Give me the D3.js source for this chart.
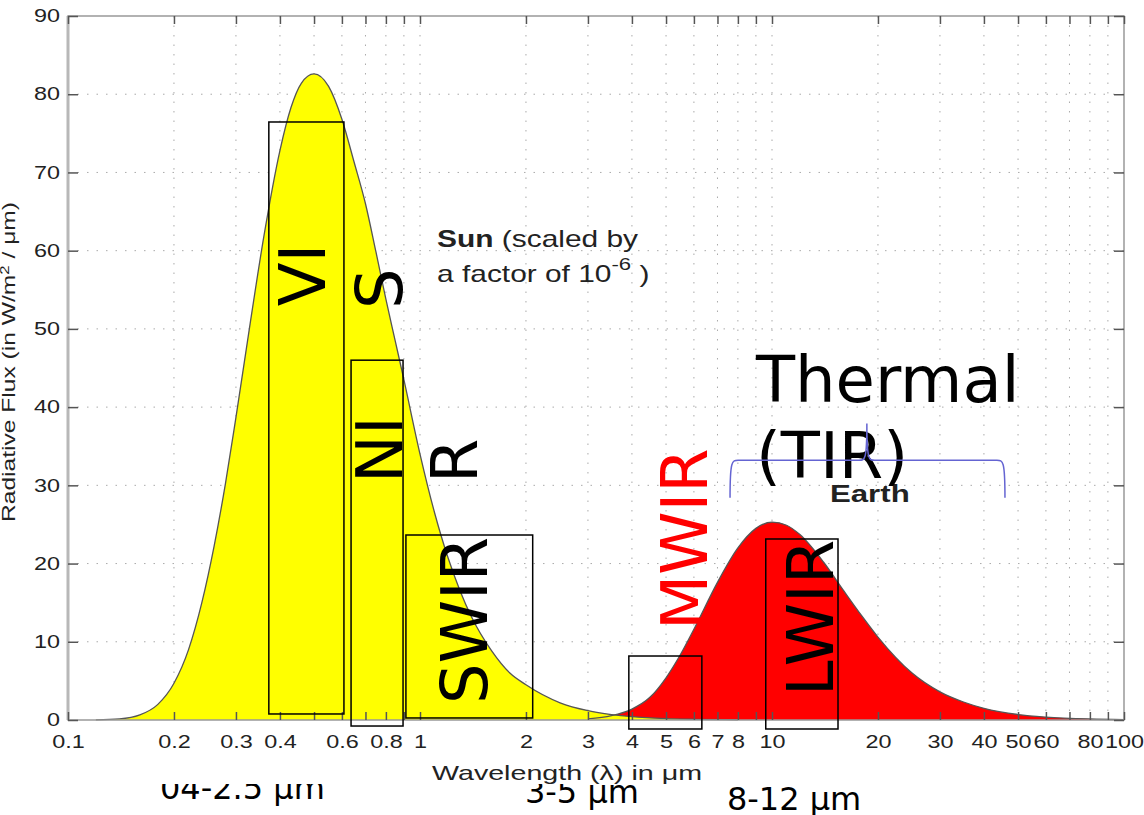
<!DOCTYPE html>
<html>
<head>
<meta charset="utf-8">
<script src="https://cdn.jsdelivr.net/npm/d3@7"></script>
<style>
  body { margin: 0; background: #fff; }
  svg { display: block; }
</style>
</head>
<body>
<div id="chart"></div>
<script>
// Sun curve (scaled by 1e-6)
const sunWl   = [0.12, 0.14, 0.16, 0.18, 0.20, 0.22, 0.24, 0.26, 0.28, 0.30, 0.33, 0.36, 0.40, 0.43, 0.46, 0.50, 0.55, 0.60, 0.65, 0.70, 0.75, 0.80, 0.85, 0.90, 1.0, 1.1, 1.2, 1.3, 1.4, 1.6, 1.8, 2.0, 2.5, 3.0, 3.5, 4.0, 5.0, 6.0, 8.0];
const sunFlux = [0.02, 0.14, 0.65, 2.0, 4.7, 9.0, 15.0, 22.2, 30.2, 38.7, 51.0, 61.8, 72.8, 78.3, 81.4, 82.6, 81.0, 76.8, 71.3, 66.0, 59.8, 53.8, 48.5, 43.5, 34.0, 26.5, 20.8, 16.5, 13.2, 8.8, 6.0, 4.5, 2.2, 1.2, 0.7, 0.42, 0.18, 0.09, 0.03];

// Earth curve
const earthWl   = [3.0, 3.5, 4.0, 4.5, 5.0, 5.5, 6.0, 7.0, 8.0, 9.0, 10, 11, 12, 14, 16, 18, 20, 25, 30, 35, 40, 50, 60, 80, 100];
const earthFlux = [0.15, 0.55, 1.4, 2.9, 5.4, 8.4, 11.6, 17.6, 22.0, 24.5, 25.3, 24.9, 23.7, 20.2, 16.5, 13.3, 10.6, 6.0, 3.6, 2.3, 1.5, 0.7, 0.37, 0.13, 0.06];

// axis ticks
const xTicks = [0.1, 0.2, 0.3, 0.4, 0.5, 0.6, 0.7, 0.8, 0.9, 1, 2, 3, 4, 5, 6, 7, 8, 9, 10, 20, 30, 40, 50, 60, 70, 80, 90, 100];
const xTickLabels = ["0.1", "0.2", "0.3", "0.4", "", "0.6", "", "0.8", "", "1", "2", "3", "4", "5", "6", "7", "8", "", "10", "20", "30", "40", "50", "60", "", "80", "", "100"];
const yTicks = [0, 10, 20, 30, 40, 50, 60, 70, 80, 90];

// band boxes (wavelength range, flux range)
const bandNames = ["VIS", "NIR", "SWIR", "MWIR", "LWIR"];
const bandWl0   = [0.372, 0.637, 0.912, 3.92, 9.6];
const bandWl1   = [0.608, 0.895, 2.09, 6.32, 15.4];
const bandLo    = [0.77, -0.77, 0.26, -1.15, -1.15];
const bandHi    = [76.45, 46.0, 23.65, 8.18, 23.14];

// rotated band labels
const labelText = ["VI", "S", "NI", "R", "SWIR", "MWIR", "LWIR"];
const labelWl   = [0.537, 0.889, 0.889, 1.452, 1.55, 6.54, 14.9];
const labelFlux = [52.9, 52.54, 30.3, 30.3, 2.05, 11.5, 3.07];
const labelColor = ["#000", "#000", "#000", "#000", "#000", "#ff0000", "#000"];

// range notes under the chart
const rangeText = ["04-2.5 \u03bcm", "3-5 \u03bcm", "8-12 \u03bcm"];
const rangeWl   = [0.1825, 1.987, 7.447];
const rangeFlux = [-10.1, -10.6, -11.5];

const width = 1144;
const height = 815;
const stretch = 1.3;

const x = d3.scaleLog().domain([0.1, 100]).range([68, 1124]);
const y = d3.scaleLinear().domain([0, 90]).range([720, 16]);

const svg = d3.select("#chart").append("svg")
  .attr("width", width)
  .attr("height", height);

// notes below, partly hidden by the chart's white background
svg.append("g")
  .selectAll("text")
  .data(rangeText)
  .join("text")
  .attr("x", (d, i) => x(rangeWl[i]))
  .attr("y", (d, i) => y(rangeFlux[i]))
  .attr("font-family", "DejaVu Sans")
  .attr("font-size", 32)
  .attr("fill", "#000")
  .text(d => d);

svg.append("rect")
  .attr("width", width)
  .attr("height", 784)
  .attr("fill", "#fff");

// grid
const grid = svg.append("g")
  .attr("stroke", "#aaa")
  .attr("stroke-width", 1)
  .attr("stroke-dasharray", "1.5,8");
grid.selectAll(".vg")
  .data(xTicks.slice(1, -1))
  .join("line")
  .attr("x1", d => x(d)).attr("x2", d => x(d))
  .attr("y1", y(90)).attr("y2", y(0));
grid.selectAll(".hg")
  .data(yTicks.slice(1, -1))
  .join("line")
  .attr("x1", x(0.1)).attr("x2", x(100))
  .attr("y1", d => y(d)).attr("y2", d => y(d));

const sun = sunWl.map((w, i) => ({ w, f: sunFlux[i] }));
const earth = earthWl.map((w, i) => ({ w, f: earthFlux[i] }));

const area = d3.area()
  .x(d => x(d.w))
  .y0(y(0))
  .y1(d => y(d.f))
  .curve(d3.curveMonotoneX);
const line = d3.line()
  .x(d => x(d.w))
  .y(d => y(d.f))
  .curve(d3.curveMonotoneX);

svg.append("path").datum(earth).attr("d", area).attr("fill", "#ff0000");
svg.append("path").datum(sun).attr("d", area).attr("fill", "#ffff00");
svg.append("path").datum(earth).attr("d", line).attr("fill", "none").attr("stroke", "#555").attr("stroke-width", 1.3);
svg.append("path").datum(sun).attr("d", line).attr("fill", "none").attr("stroke", "#555").attr("stroke-width", 1.3);

// frame
svg.append("rect")
  .attr("x", x(0.1)).attr("y", y(90))
  .attr("width", x(100) - x(0.1)).attr("height", y(0) - y(90))
  .attr("fill", "none")
  .attr("stroke", "#999")
  .attr("stroke-width", 1.5);
svg.append("line")
  .attr("x1", x(0.1)).attr("x2", x(0.1))
  .attr("y1", y(90)).attr("y2", y(0))
  .attr("stroke", "#b8b8b8")
  .attr("stroke-width", 3);

const styleAxis = g => {
  g.select(".domain").remove();
  g.selectAll(".tick line").attr("stroke", "#555").attr("stroke-width", 1.5);
  g.selectAll("text")
    .attr("font-family", "Liberation Sans, Arial, sans-serif")
    .attr("font-size", 18)
    .attr("fill", "#222");
};

svg.append("g")
  .attr("transform", `translate(0,${y(0)})`)
  .call(d3.axisBottom(x).tickValues(xTicks).tickFormat((d, i) => xTickLabels[i]).tickSizeInner(-8).tickSizeOuter(0).tickPadding(15))
  .call(styleAxis)
  .call(g => g.selectAll("text").attr("transform", `scale(${stretch},1)`));

svg.append("g")
  .attr("transform", `translate(0,${y(90)})`)
  .call(d3.axisTop(x).tickValues(xTicks).tickFormat("").tickSizeInner(-8).tickSizeOuter(0))
  .call(styleAxis);

svg.append("g")
  .attr("transform", `translate(${x(0.1)},0)`)
  .call(d3.axisLeft(y).tickValues(yTicks).tickSizeInner(-10).tickSizeOuter(0).tickPadding(8))
  .call(styleAxis)
  .call(g => g.selectAll("text").attr("x", -8 / stretch).attr("transform", `scale(${stretch},1)`));

svg.append("g")
  .attr("transform", `translate(${x(100)},0)`)
  .call(d3.axisRight(y).tickValues(yTicks).tickFormat("").tickSizeInner(-10).tickSizeOuter(0))
  .call(styleAxis);

// axis titles
svg.append("text")
  .attr("x", (x(0.1) + x(100)) / 2 - 29)
  .attr("y", 780)
  .attr("text-anchor", "middle")
  .attr("font-family", "Liberation Sans, Arial, sans-serif")
  .attr("font-size", 21)
  .attr("fill", "#222")
  .attr("textLength", 270)
  .attr("lengthAdjust", "spacingAndGlyphs")
  .text("Wavelength (\u03bb) in \u03bcm");

const yTitle = svg.append("text")
  .attr("transform", "translate(15,362) rotate(-90)")
  .attr("text-anchor", "middle")
  .attr("font-family", "Liberation Sans, Arial, sans-serif")
  .attr("font-size", 19)
  .attr("fill", "#222")
  .attr("textLength", 320)
  .attr("lengthAdjust", "spacingAndGlyphs");
yTitle.append("tspan").text("Radiative Flux (in W/m");
yTitle.append("tspan").attr("dy", -6).attr("font-size", 13).text("2");
yTitle.append("tspan").attr("dy", 6).text(" / \u03bcm)");

// Sun note
const sunNote = svg.append("g")
  .attr("transform", `translate(${x(1.118)},${y(60.47)}) scale(${stretch},1)`)
  .attr("font-family", "Liberation Sans, Arial, sans-serif")
  .attr("font-size", 23)
  .attr("fill", "#222");
const l1 = sunNote.append("text");
l1.append("tspan").attr("font-weight", "bold").text("Sun");
l1.append("tspan").text(" (scaled by");
const l2 = sunNote.append("text").attr("y", y(56.0) - y(60.47));
l2.append("tspan").text("a factor of 10");
l2.append("tspan").attr("dy", -12).attr("font-size", 17).text("-6");
l2.append("tspan").attr("dy", 12).text(" )");

// Earth note
svg.append("text")
  .attr("transform", `translate(${x(14.61)},${y(27.87)}) scale(${stretch},1)`)
  .attr("font-family", "Liberation Sans, Arial, sans-serif")
  .attr("font-size", 24)
  .attr("font-weight", "bold")
  .attr("fill", "#222")
  .text("Earth");

// band boxes
svg.append("g")
  .selectAll("rect")
  .data(bandNames)
  .join("rect")
  .attr("x", (d, i) => x(bandWl0[i]))
  .attr("y", (d, i) => y(bandHi[i]))
  .attr("width", (d, i) => x(bandWl1[i]) - x(bandWl0[i]))
  .attr("height", (d, i) => y(bandLo[i]) - y(bandHi[i]))
  .attr("fill", "none")
  .attr("stroke", "#000")
  .attr("stroke-width", 1.5);

// band labels
svg.append("g")
  .selectAll("text")
  .data(labelText)
  .join("text")
  .attr("transform", (d, i) => `translate(${x(labelWl[i])},${y(labelFlux[i])}) rotate(-90)`)
  .attr("font-family", "DejaVu Sans")
  .attr("font-size", 64)
  .attr("fill", (d, i) => labelColor[i])
  .text(d => d);

// thermal label
const thermal = svg.append("text")
  .attr("font-family", "DejaVu Sans")
  .attr("font-size", 64)
  .attr("fill", "#000");
thermal.append("tspan").attr("x", x(9.0)).attr("y", y(40.65)).text("Thermal");
thermal.append("tspan").attr("x", x(9.0)).attr("y", y(30.94)).text("(TIR)");

// brace over the thermal range
const bx0 = x(7.6), bx1 = x(45.9), bxm = x(18.6);
const byLine = y(33.2), byEnd = y(28.4), byPeak = y(37.9);
const brace = d3.path();
brace.moveTo(bx0, byEnd);
brace.bezierCurveTo(bx0, byLine, bx0 + 2, byLine, bx0 + 8, byLine);
brace.lineTo(bxm - 8, byLine);
brace.bezierCurveTo(bxm - 2, byLine, bxm, byLine, bxm, byPeak);
brace.bezierCurveTo(bxm, byLine, bxm + 2, byLine, bxm + 8, byLine);
brace.lineTo(bx1 - 8, byLine);
brace.bezierCurveTo(bx1 - 2, byLine, bx1, byLine, bx1, byEnd);
svg.append("path")
  .attr("d", brace.toString())
  .attr("fill", "none")
  .attr("stroke", "#6464d2")
  .attr("stroke-width", 1.5);
</script>
</body>
</html>
